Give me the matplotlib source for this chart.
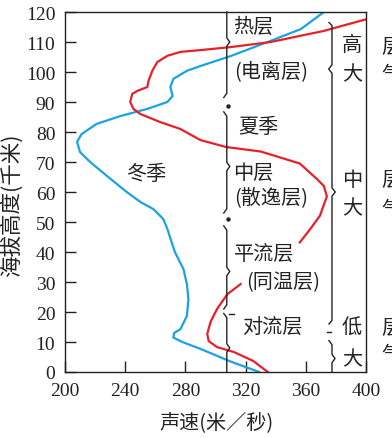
import matplotlib
matplotlib.use("Agg")
import matplotlib.pyplot as plt
import numpy as np

plt.rcParams['font.family'] = ['Liberation Serif', 'Noto Sans CJK SC']

# winter (blue): speed (m/s), height (km)
winter_v = [329, 310, 290, 278, 272, 272.5, 276.7, 281, 282, 281, 278.7, 273, 268,
            265.3, 258.7, 250, 241, 228, 216.7, 210, 208, 211, 221, 236.7, 254.7,
            268, 271.5, 270, 272, 281, 290, 310, 336.7, 356.7, 372]
winter_h = [0, 3.5, 7.7, 10, 11.5, 13, 14.3, 18.7, 24.3, 29.3, 34.3, 40, 47.7,
            51, 54.3, 56.7, 60, 65.3, 70, 73.3, 76.7, 79.3, 82.7, 85.3, 87.7,
            90, 92, 95, 97.7, 100.4, 102, 105.3, 110.4, 114.3, 120]

# summer (red), drawn in two pieces
summer_low_v = [334.7, 325, 312, 301, 295.5, 294.5, 296.7, 301, 308, 316.7]
summer_low_h = [0, 3.7, 6.7, 8.3, 10.3, 12.7, 16.7, 21, 26, 29.3]
summer_up_v = [356, 363, 369.4, 374, 372, 367, 356, 330, 307, 296, 290, 276.7,
               263.3, 250, 245.5, 243.3, 244.7, 248, 254.7, 255.5, 258, 261.3,
               268, 276.7, 290, 310, 336.7, 372, 401]
summer_up_h = [43.2, 47.7, 52.1, 58.5, 62, 64.5, 69.5, 73.5, 75, 76.5, 77.3, 81,
               83.3, 86, 87.7, 90, 92.7, 93.7, 95, 97, 100.4, 103.3,
               105.4, 106.7, 107.3, 108.3, 110, 113.7, 117.7]

x_ticks = [200, 240, 280, 320, 360, 400]
y_ticks = list(range(0, 121, 10))

layer_labels = [("热层", 325, 115.3), ("(电离层)", 337, 100), ("夏季", 328.7, 81.7),
                ("中层", 325, 66.7), ("(散逸层)", 337, 58.3), ("平流层", 332, 39.3),
                ("(同温层)", 344.7, 30), ("对流层", 338, 15), ("冬季", 254, 66)]
side_labels = [("高", 109.3), ("大", 99.3), ("中", 64.3), ("大", 54.7),
               ("低", 15), ("大", 4.5)]
cut_labels = [("层", 108.7), ("气", 99.3), ("层", 64.3), ("气", 54.3),
              ("层", 15), ("气", 5.7)]

RED = "#e62129"
BLUE = "#1aa3e0"
INK = "#222222"
CJK = ['Noto Sans CJK SC', 'DejaVu Sans']


def brace(ax, x, y_top, y_bot, y_tip, d=2.0, e=1.4, curl_top=True, curl_bot=True,
          side=1):
    xs, ys = [], []
    if curl_top:
        xs += [x - side * d, x]
        ys += [y_top, y_top - e]
    else:
        xs += [x]
        ys += [y_top]
    xs += [x, x + side * d, x]
    ys += [y_tip + e, y_tip, y_tip - e]
    if curl_bot:
        xs += [x, x - side * d]
        ys += [y_bot + e, y_bot]
    else:
        xs += [x]
        ys += [y_bot]
    ax.plot(xs, ys, color=INK, lw=1.0, clip_on=False, solid_joinstyle='round')


def main():
    fig = plt.figure(figsize=(3.92, 4.39), dpi=100)
    ax = fig.add_axes([65 / 392, 66 / 439, 301 / 392, 360 / 439])

    ax.plot(winter_v, winter_h, color=BLUE, lw=1.6, solid_joinstyle='round')
    ax.plot(summer_low_v, summer_low_h, color=RED, lw=1.6, solid_joinstyle='round')
    ax.plot(summer_up_v, summer_up_h, color=RED, lw=1.6, solid_joinstyle='round')

    ax.set_xlim(200, 400)
    ax.set_ylim(0, 120)
    ax.set_xticks(x_ticks)
    ax.set_yticks(y_ticks)
    ax.tick_params(direction='in', length=8, width=1.0, labelsize=14, pad=7,
                   colors=INK)
    for s in ax.spines.values():
        s.set_linewidth(1.0)
        s.set_color(INK)

    # layer braces (left column)
    xc = 307.5
    brace(ax, xc, 120, 91.5, 110, curl_top=False)
    brace(ax, xc, 86.7, 53, 68.5)
    brace(ax, xc, 48.7, 21, 33.5)
    brace(ax, xc, 19.5, 0, 8, curl_bot=False)
    ax.plot([xc + 1.5, xc + 4.5], [19.3, 19.3], color=INK, lw=1.0)
    ax.plot([xc + 0.8, xc + 0.8], [88.7, 51], 'o', color=INK, ms=2.2)

    # right column
    xr = 377.4
    ax.plot([xr - 2, xr, xr, xr - 2.2, xr, xr, xr + 2.2, xr, xr, xr - 2],
            [116.5, 115.5, 102.4, 101, 99.6, 61.4, 60, 58.6, 17.2, 16],
            color=INK, lw=1.0, solid_joinstyle='round')
    ax.plot([xr - 3, xr - 0.5], [13.3, 13.3], color=INK, lw=1.0)
    brace(ax, xr, 10.5, 0, 4.5, curl_bot=False)

    for t, x, y in layer_labels:
        ax.text(x, y, t, family=CJK, fontsize=14.5, ha='center', va='center',
                color=INK)
    for t, y in side_labels:
        ax.text(390.7, y, t, family=CJK, fontsize=14.5, ha='center', va='center',
                color=INK)
    for t, y in cut_labels:
        ax.text(410.5, y, t, family=CJK, fontsize=14.5, ha='left', va='center',
                color=INK, clip_on=False)

    fig.text(217 / 392, 1 - 423 / 439, "声速(米／秒)", family=CJK, fontsize=14.5,
             ha='center', va='center', color=INK)
    fig.text(12 / 392, 1 - 205 / 439, "海拔高度(千米)", family=CJK, fontsize=15.5,
             ha='center', va='center', rotation=90, color=INK)

    fig.savefig("out.png", dpi=100)


if __name__ == "__main__":
    main()
